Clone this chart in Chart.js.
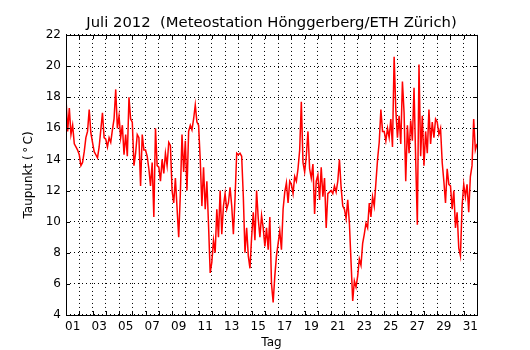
<!DOCTYPE html>
<html>
<head>
<meta charset="utf-8">
<script src="https://cdn.jsdelivr.net/npm/chart.js@4"></script>
<style>
  html, body { margin: 0; padding: 0; background: #fff; }
  canvas { display: block; }
</style>
</head>
<body>
<canvas id="chart" width="530" height="350"></canvas>
<script>
// Taupunkt, Juli 2012, every 3 hours (00, 03, ... 21 h)
const dewPoint = [
  17.9, 15.8, 17.3, 15.6, 16.2, 15.0, 14.8, 14.6,  // 01
  14.3, 13.6, 13.8, 14.5, 15.4, 15.8, 17.2, 15.7,  // 02
  15.1, 14.5, 14.3, 14.1, 14.8, 15.9, 17.0, 15.4,  // 03
  15.3, 14.8, 15.4, 15.1, 15.9, 16.6, 18.5, 16.0,  // 04
  16.8, 15.4, 16.2, 14.3, 15.6, 14.2, 18.0, 16.6,  // 05
  16.4, 13.6, 14.4, 15.6, 15.4, 12.3, 15.6, 14.6,  // 06
  14.6, 14.2, 13.4, 12.3, 13.8, 10.3, 16.0, 13.6,  // 07
  13.5, 12.6, 14.0, 13.1, 14.4, 13.6, 15.1, 14.9,  // 08
  12.0, 11.2, 12.8, 10.9, 9.0, 11.8, 15.6, 13.2,   // 09
  15.2, 12.0, 15.8, 16.2, 15.9, 16.6, 17.5, 16.4,  // 10
  16.2, 14.0, 11.0, 13.5, 10.8, 12.6, 9.8, 6.7,    // 11
  7.4, 8.8, 8.0, 10.8, 9.0, 12.0, 9.2, 11.0,       // 12
  11.8, 10.8, 11.2, 12.2, 11.0, 9.2, 11.5, 14.4,   // 13
  14.3, 14.4, 14.2, 11.6, 8.0, 9.6, 7.8, 7.0,      // 14
  9.0, 10.6, 8.8, 12.0, 10.2, 9.0, 10.4, 9.6,      // 15
  8.4, 9.6, 8.2, 10.3, 6.0, 4.8, 6.5, 7.8,         // 16
  8.6, 9.4, 8.2, 10.8, 11.9, 12.5, 11.2, 12.6,     // 17
  12.4, 11.8, 12.9, 12.6, 13.4, 14.6, 17.7, 13.8,  // 18
  13.2, 14.2, 15.8, 13.4, 12.8, 13.7, 10.5, 12.6,  // 19
  13.0, 11.4, 13.5, 11.6, 12.8, 9.6, 11.8, 11.9,   // 20
  12.0, 11.8, 12.3, 11.9, 12.6, 14.0, 12.2, 11.0,  // 21
  10.8, 10.2, 11.4, 9.9, 7.4, 4.9, 6.2, 5.8,       // 22
  6.5, 7.6, 7.2, 8.6, 9.2, 9.9, 9.6, 11.2,         // 23
  10.3, 11.6, 11.0, 12.5, 14.0, 15.1, 17.2, 15.8,  // 24
  15.8, 15.2, 16.0, 15.4, 16.6, 14.8, 20.6, 17.2,  // 25
  15.4, 16.8, 15.0, 19.0, 17.0, 12.6, 16.2, 14.4,  // 26
  16.5, 15.2, 18.6, 14.0, 9.8, 20.1, 14.2, 16.8,   // 27
  13.6, 15.8, 14.4, 17.2, 15.0, 16.4, 15.4, 16.6,  // 28
  16.4, 15.6, 16.0, 13.8, 12.6, 11.2, 13.4, 12.4,  // 29
  12.3, 10.8, 12.0, 9.6, 10.6, 8.3, 7.8, 11.0,     // 30
  12.4, 11.6, 12.4, 10.6, 12.9, 13.6, 16.6, 14.6,  // 31
  15.0
];
// time in days (1.0 = 1. Juli 00:00), 3-hour steps
const dayTime = dewPoint.map((_, i) => 1 + i * 3 / 24);

const dayLabels = ['01', '03', '05', '07', '09', '11', '13', '15',
                   '17', '19', '21', '23', '25', '27', '29', '31'];
const yTicks = [4, 6, 8, 10, 12, 14, 16, 18, 20, 22];

const points = dayTime.map((t, i) => ({x: t, y: dewPoint[i]}));

// box around the plot + small inward tick marks (matplotlib look)
const frameTicks = {
    id: 'frameTicks',
    afterDatasetsDraw(chart) {
        const {ctx, chartArea: a, scales} = chart;
        ctx.save();
        ctx.strokeStyle = '#000';
        ctx.lineWidth = 1;
        ctx.setLineDash([]);
        const len = 4;
        ctx.beginPath();
        scales.x.ticks.forEach(t => {
            if (!Number.isInteger(t.value)) return;
            const px = Math.round(scales.x.getPixelForValue(t.value)) + 0.5;
            ctx.moveTo(px, a.bottom); ctx.lineTo(px, a.bottom - len);
            ctx.moveTo(px, a.top); ctx.lineTo(px, a.top + len);
        });
        scales.y.ticks.forEach(t => {
            const py = Math.round(scales.y.getPixelForValue(t.value)) + 0.5;
            ctx.moveTo(a.left, py); ctx.lineTo(a.left + len, py);
            ctx.moveTo(a.right, py); ctx.lineTo(a.right - len, py);
        });
        ctx.stroke();
        ctx.strokeRect(Math.round(a.left) + 0.5, Math.round(a.top) + 0.5,
            Math.round(a.right - a.left), Math.round(a.bottom - a.top));
        ctx.restore();
    }
};

const gridColor = ctx => Number.isInteger(ctx.tick.value) ? '#000' : 'rgba(0,0,0,0)';

new Chart(document.getElementById('chart'), {
    type: 'line',
    data: {
        datasets: [{
            label: 'Taupunkt',
            data: points,
            borderColor: '#ff0000',
            borderWidth: 1.5,
            pointRadius: 0,
            tension: 0,
            fill: false
        }]
    },
    options: {
        responsive: false,
        animation: false,
        devicePixelRatio: 1,
        layout: {padding: {left: 0, right: 53, top: 0, bottom: 0}},
        font: {family: '"DejaVu Sans", sans-serif'},
        plugins: {
            legend: {display: false},
            tooltip: {enabled: false},
            title: {
                display: true,
                fullSize: false,   // centre over the plot box, not the canvas
                text: 'Juli 2012  (Meteostation Hönggerberg/ETH Zürich)',
                color: '#000',
                font: {size: 14.8, weight: 'normal', family: '"DejaVu Sans", sans-serif'},
                padding: {top: 14.5, bottom: 2.7}
            }
        },
        scales: {
            x: {
                type: 'linear',
                min: 1,
                max: 32,
                afterBuildTicks: scale => {
                    const ticks = [];
                    for (let v = 1; v <= 32; v += 0.5) ticks.push({value: v});
                    scale.ticks = ticks;
                },
                afterFit: scale => { scale.height = 35; },
                ticks: {
                    autoSkip: false,
                    maxRotation: 0,
                    padding: 5,
                    color: '#000',
                    font: {size: 12},
                    callback: v => {
                        const k = (v - 1.5) / 2;
                        return Number.isInteger(k) ? dayLabels[k] : '';
                    }
                },
                grid: {
                    color: gridColor,
                    lineWidth: 1,
                    drawTicks: false
                },
                border: {display: false, dash: [1, 3]},
                title: {
                    display: true,
                    text: 'Tag',
                    color: '#000',
                    font: {size: 12},
                    padding: {top: 0, bottom: 0}
                }
            },
            y: {
                min: 4,
                max: 22,
                afterBuildTicks: scale => { scale.ticks = yTicks.map(v => ({value: v})); },
                afterFit: scale => { scale.width = 66; },
                ticks: {
                    padding: 5,
                    color: '#000',
                    font: {size: 12}
                },
                grid: {
                    color: '#000',
                    lineWidth: 1,
                    drawTicks: false
                },
                border: {display: false, dash: [1, 3]},
                title: {
                    display: true,
                    text: 'Taupunkt (\u2009°\u2009C)',
                    color: '#000',
                    font: {size: 12},
                    padding: {top: 22, bottom: 0}
                }
            }
        }
    },
    plugins: [frameTicks]
});
</script>
</body>
</html>
